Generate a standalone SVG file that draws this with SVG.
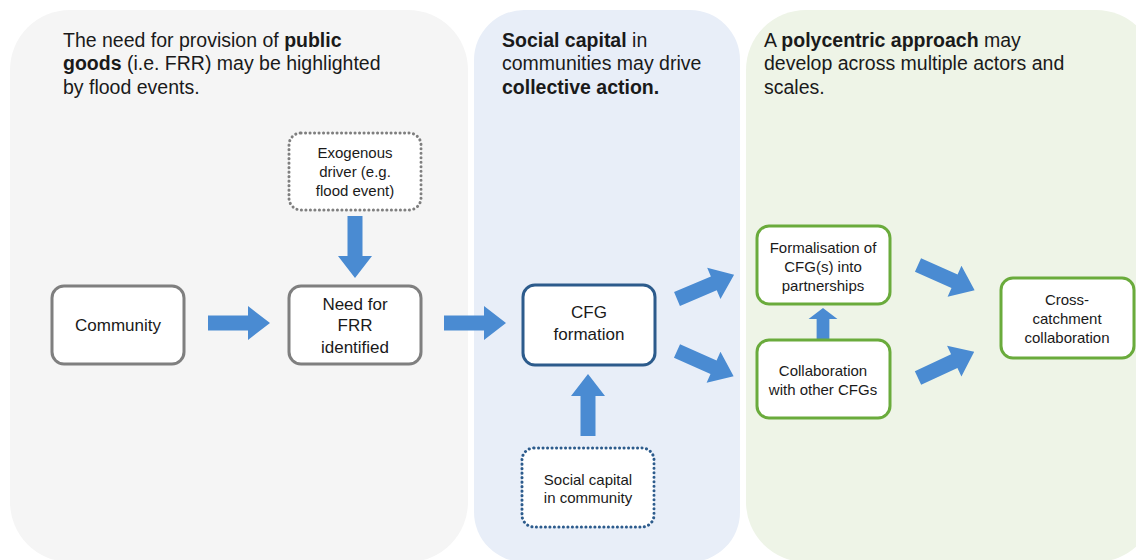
<svg xmlns="http://www.w3.org/2000/svg" xmlns:xlink="http://www.w3.org/1999/xlink" width="1136" height="560" viewBox="0 0 1136 560">
  <style>
    text { font-family: "Liberation Sans", Arial, sans-serif; fill: #1a1a1a; }
    .head { font-size: 19.5px; }
    .head .b { font-weight: bold; }
    .lbl { font-size: 17px; text-anchor: middle; }
    .sm { font-size: 15px; text-anchor: middle; }
    .box { fill: #ffffff; stroke-width: 3; }
    .grey { stroke: #7f7f7f; }
    .blue { stroke: #2c5b8c; }
    .green { stroke: #6aab3c; }
    .dot { fill: #ffffff; stroke-width: 3; stroke-dasharray: 0.1 4.4; stroke-linecap: round; }
    .arrow { fill: #4a8bd2; }
  </style>
  <defs>
    <!-- block arrow pointing along +x, 62 long -->
    <polygon id="blk" points="0,-7.5 40,-7.5 40,-17 62,0 40,17 40,7.5 0,7.5"/>
  </defs>

  <rect width="1136" height="560" fill="#ffffff"/>

  <!-- stage panels -->
  <g id="panels">
    <rect x="10" y="10" width="458" height="552" rx="60" fill="#f5f5f5"/>
    <rect x="474" y="10" width="266" height="552" rx="50" fill="#e8eef8"/>
    <rect x="746" y="10" width="410" height="552" rx="60" fill="#eef4e7"/>
  </g>

  <!-- stage headings -->
  <g id="heading-1">
    <text class="head" x="63" y="47">The need for provision of <tspan class="b">public</tspan></text>
    <text class="head" x="63" y="70"><tspan class="b">goods</tspan> (i.e. FRR) may be highlighted</text>
    <text class="head" x="63" y="94">by flood events.</text>
  </g>
  <g id="heading-2">
    <text class="head" x="502" y="47"><tspan class="b">Social capital</tspan> in</text>
    <text class="head" x="502" y="70">communities may drive</text>
    <text class="head" x="502" y="94"><tspan class="b">collective action.</tspan></text>
  </g>
  <g id="heading-3">
    <text class="head" x="764" y="47">A <tspan class="b">polycentric approach</tspan> may</text>
    <text class="head" x="764" y="70">develop across multiple actors and</text>
    <text class="head" x="764" y="94">scales.</text>
  </g>

  <!-- connectors -->
  <g id="connectors" class="arrow">
    <use xlink:href="#blk" transform="translate(208,323)"/>
    <use xlink:href="#blk" transform="translate(355,216) rotate(90)"/>
    <use xlink:href="#blk" transform="translate(444,323)"/>
    <use xlink:href="#blk" transform="translate(588,436) rotate(-90)"/>
    <use xlink:href="#blk" transform="translate(677,299) rotate(-23)"/>
    <use xlink:href="#blk" transform="translate(677,351) rotate(24)"/>
    <use xlink:href="#blk" transform="translate(823,339) rotate(-90) scale(0.5,0.85)"/>
    <use xlink:href="#blk" transform="translate(918,265) rotate(24)"/>
    <use xlink:href="#blk" transform="translate(918,378) rotate(-25)"/>
  </g>

  <!-- nodes -->
  <g id="community">
    <rect class="box grey" x="52" y="286" width="132" height="78" rx="12"/>
    <text class="lbl" x="118" y="331">Community</text>
  </g>
  <g id="exogenous-driver">
    <rect class="dot grey" x="289" y="133" width="132" height="77" rx="12"/>
    <text class="sm" x="355" y="158">Exogenous</text>
    <text class="sm" x="355" y="177">driver (e.g.</text>
    <text class="sm" x="355" y="196">flood event)</text>
  </g>
  <g id="need-for-frr">
    <rect class="box grey" x="289" y="286" width="132" height="78" rx="12"/>
    <text class="lbl" x="355" y="310">Need for</text>
    <text class="lbl" x="355" y="331">FRR</text>
    <text class="lbl" x="355" y="353">identified</text>
  </g>
  <g id="cfg-formation">
    <rect class="box blue" x="523" y="285" width="132" height="80" rx="12"/>
    <text class="lbl" x="589" y="318">CFG</text>
    <text class="lbl" x="589" y="340">formation</text>
  </g>
  <g id="social-capital">
    <rect class="dot blue" x="522" y="448" width="132" height="79" rx="12"/>
    <text class="sm" x="588" y="485">Social capital</text>
    <text class="sm" x="588" y="503">in community</text>
  </g>
  <g id="formalisation">
    <rect class="box green" x="757" y="226" width="133" height="78" rx="12"/>
    <text class="sm" x="823" y="253">Formalisation of</text>
    <text class="sm" x="823" y="272">CFG(s) into</text>
    <text class="sm" x="823" y="291">partnerships</text>
  </g>
  <g id="collaboration">
    <rect class="box green" x="757" y="340" width="133" height="78" rx="12"/>
    <text class="sm" x="823" y="376">Collaboration</text>
    <text class="sm" x="823" y="395">with other CFGs</text>
  </g>
  <g id="cross-catchment">
    <rect class="box green" x="1001" y="278" width="133" height="80" rx="12"/>
    <text class="sm" x="1067" y="305">Cross-</text>
    <text class="sm" x="1067" y="324">catchment</text>
    <text class="sm" x="1067" y="343">collaboration</text>
  </g>
</svg>
